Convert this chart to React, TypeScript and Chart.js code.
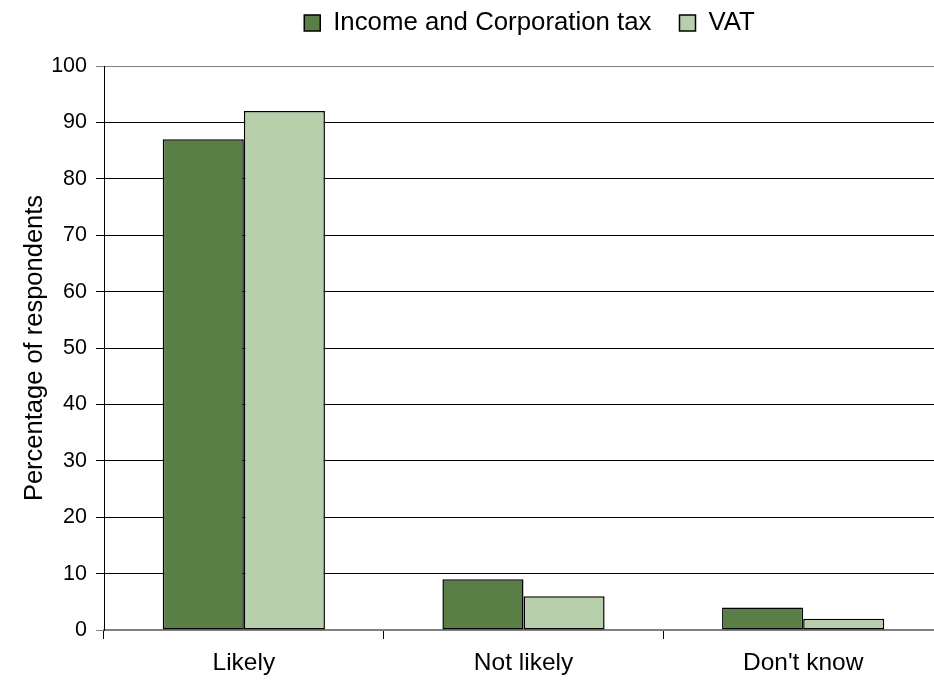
import React, { useEffect, useRef } from "react";
import { Chart, registerables } from "chart.js";

Chart.register(...registerables);

const categories = ["Likely", "Not likely", "Don't know"];
const incomeCorpTax = [87, 9, 4];
const vat = [92, 6, 2];
const seriesNames = ["Income and Corporation tax", "VAT"];
const yTicks = [0, 10, 20, 30, 40, 50, 60, 70, 80, 90, 100];

const FONT = "'Liberation Sans', Arial, sans-serif";

const legendPlugin = {
  id: "legendPlace",
  beforeInit(chart: any) {
    const orig = chart.legend.fit;
    chart.legend.fit = function () {
      orig.call(this);
      this.height = 66;
    };
  },
  afterLayout(chart: any) {
    const lg = chart.legend;
    lg.left = 103;
    lg.right = 956;
    lg.top = -18;
  },
};

export default function App() {
  const ref = useRef<HTMLCanvasElement | null>(null);
  useEffect(() => {
    document.body.style.overflow = "hidden";
    const chart = new Chart(ref.current!, {
      type: "bar",
      data: {
        labels: categories,
        datasets: [
          {
            label: seriesNames[0],
            data: incomeCorpTax,
            backgroundColor: "#5a7f46",
            borderColor: "#000000",
            borderWidth: 1.5,
            borderSkipped: false,
          },
          {
            label: seriesNames[1],
            data: vat,
            backgroundColor: "#b7d0ab",
            borderColor: "#000000",
            borderWidth: 1.5,
            borderSkipped: false,
          },
        ],
      },
      plugins: [legendPlugin],
      options: {
        animation: false,
        responsive: false,
        maintainAspectRatio: false,
        layout: { padding: { left: 0, right: 7, top: 0, bottom: 0 } },
        datasets: { bar: { categoryPercentage: 0.58, barPercentage: 1.0 } },
        plugins: {
          legend: {
            position: "top",
            labels: {
              font: { family: FONT, size: 25.8 },
              color: "#000",
              boxWidth: 16,
              boxHeight: 16,
              padding: 28,
            },
          },
          tooltip: { enabled: false },
        },
        scales: {
          x: {
            offset: true,
            grid: {
              offset: true,
              drawOnChartArea: false,
              drawTicks: true,
              tickLength: 9,
              color: "#000",
              lineWidth: 1,
            },
            border: { display: true, color: "#808080", width: 1.5 },
            ticks: {
              font: { family: FONT, size: 24.5 },
              color: "#000",
              padding: 10,
            },
            afterFit(scale: any) {
              scale.height = 54;
            },
          },
          y: {
            min: 0,
            max: 100,
            afterBuildTicks(scale: any) {
              scale.ticks = yTicks.map((v) => ({ value: v }));
            },
            grid: {
              color: (ctx: any) =>
                ctx.tick && (ctx.tick.value === 0 || ctx.tick.value === 100) ? "#808080" : "#000",
              lineWidth: 1,
              tickLength: 8,
            },
            border: { display: true, color: "#000", width: 1 },
            ticks: {
              font: { family: FONT, size: 21.5 },
              color: "#000",
              padding: 9,
            },
            title: {
              display: true,
              text: "Percentage of respondents",
              font: { family: FONT, size: 25.5 },
              color: "#000",
              padding: { top: 20, bottom: 0 },
            },
            afterFit(scale: any) {
              scale.width = 104;
            },
          },
        },
      },
    });
    return () => chart.destroy();
  }, []);
  return (
    <div style={{ position: "absolute", left: 0, top: 0, width: 950, height: 684 }}>
      <canvas ref={ref} width={950} height={684} style={{ width: 950, height: 684 }} />
    </div>
  );
}
